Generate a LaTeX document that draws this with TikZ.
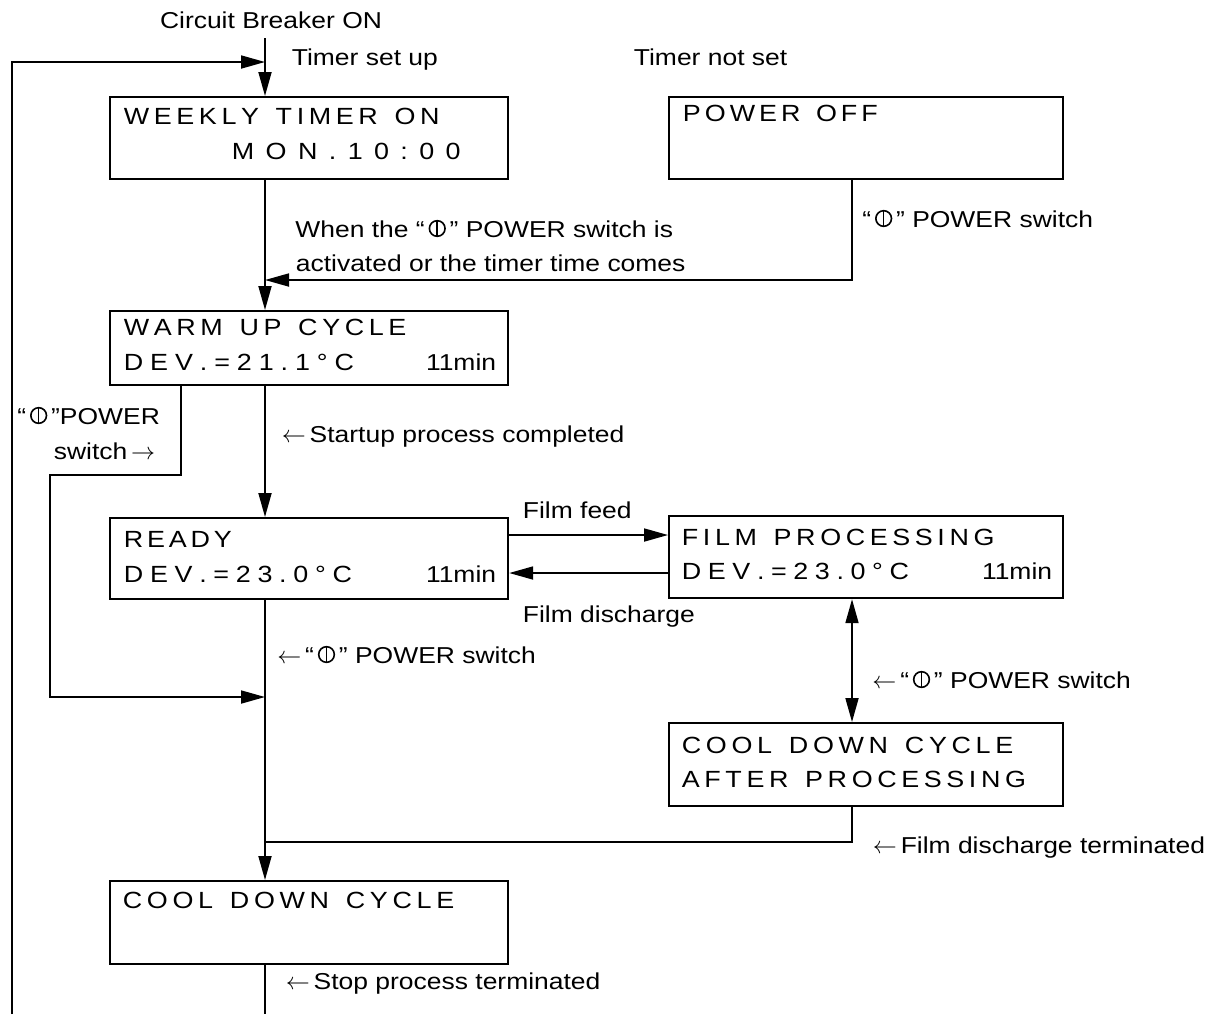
\documentclass[tikz,border=0pt]{standalone}
\usepackage{fontspec}
\setmainfont{Liberation Sans}[FakeStretch=1.15]
\usetikzlibrary{arrows.meta,calc}

\newcommand\pwr{\tikz[baseline=0pt,x=1em,y=1em,line width=0.07em]{\draw (0.34,0.37) circle (0.34); \draw (0.34,0.05)--(0.34,0.71);}}
\def\lcdloop#1{\ifx\relax#1\else#1\hspace{\lcdw}\expandafter\lcdloop\fi}
\newcommand\lcd[2]{\def\lcdw{#1}\lcdloop#2\relax}

\begin{document}
\begin{tikzpicture}[x=0.5pt,y=-0.5pt,line width=0.9pt,
  >={Triangle[length=12pt,width=6.5pt]},
  box/.style={draw,line width=1.1pt,anchor=north west,inner sep=0pt,rectangle},
  lbl/.style={anchor=base west,inner sep=0pt,font=\fontsize{11.5}{13}\selectfont},
  lcdt/.style={anchor=base west,inner sep=0pt,font=\fontsize{11.7}{13}\selectfont}]
\useasboundingbox (0,0) rectangle (1218,1014);

% boxes
\node[box,minimum width=199pt,minimum height=41pt] (wt) at (109,96) {};
\node[box,minimum width=197pt,minimum height=41pt] (po) at (668,96) {};
\node[box,minimum width=199pt,minimum height=37pt] (wu) at (109,310) {};
\node[box,minimum width=199pt,minimum height=40.5pt] (rd) at (109,517) {};
\node[box,minimum width=197pt,minimum height=41pt] (fp) at (668,515) {};
\node[box,minimum width=197pt,minimum height=41.5pt] (ca) at (668,722) {};
\node[box,minimum width=199pt,minimum height=41.5pt] (cd) at (109,880) {};

% box texts
\node[lcdt] (wt1) at (123,124) {\lcd{2.3pt}{WEEKLY~TIMER~ON}};
\node[lcdt] (wt2) at (231,159) {\lcd{5.7pt}{MON.10:00}};
\node[lcdt] (po1) at (682,121) {\lcd{2pt}{POWER~OFF}};
\node[lcdt] (wu1) at (123,335) {\lcd{2.3pt}{WARM~UP~CYCLE}};
\node[lcdt] (wu2) at (123,370) {\lcd{3.45pt}{DEV.=21.1°C}};
\node[lbl,anchor=base east] (wu3) at (497,370) {11min};
\node[lcdt] (rd1) at (123,547) {\lcd{1.9pt}{READY}};
\node[lcdt] (rd2) at (123,582) {\lcd{3.35pt}{DEV.=23.0°C}};
\node[lbl,anchor=base east] (rd3) at (497,582) {11min};
\node[lcdt] (fp1) at (681,545) {\lcd{2.3pt}{FILM~PROCESSING}};
\node[lcdt] (fp2) at (681,579) {\lcd{3.3pt}{DEV.=23.0°C}};
\node[lbl,anchor=base east] (fp3) at (1053,579) {11min};
\node[lcdt] (ca1) at (681,753) {\lcd{2.33pt}{COOL~DOWN~CYCLE}};
\node[lcdt] (ca2) at (681,787) {\lcd{2.3pt}{AFTER~PROCESSING}};
\node[lcdt] (cd1) at (122,908) {\lcd{2.33pt}{COOL~DOWN~CYCLE}};

% labels
\node[lbl,anchor=base] (t0) at (271,28) {Circuit Breaker ON};
\node[lbl] (t1) at (291,65) {Timer set up};
\node[lbl] (t2) at (633,65) {Timer not set};
\node[lbl] (t3) at (295,237) {When the “\,\pwr\,” POWER switch is};
\node[lbl] (t4) at (295,271) {activated or the timer time comes};
\node[lbl] (t5) at (862,227) {“\,\pwr\,” POWER switch};
\node[lbl] (t6) at (17,424) {“\,\pwr\,”POWER};
\node[lbl] (t7) at (53,459) {switch\,$\rightarrow$};
\node[lbl] (t8) at (281,442) {$\leftarrow$\,Startup process completed};
\node[lbl] (t9) at (522,518) {Film feed};
\node[lbl] (t10) at (522,622) {Film discharge};
\node[lbl] (t11) at (277,663) {$\leftarrow$\,“\,\pwr\,” POWER switch};
\node[lbl] (t12) at (872,688) {$\leftarrow$\,“\,\pwr\,” POWER switch};
\node[lbl] (t13) at (872,853) {$\leftarrow$\,Film discharge terminated};
\node[lbl] (t14) at (285,989) {$\leftarrow$\,Stop process terminated};

% connectors
\coordinate (cb) at (265,38);
\coordinate (lt) at (12,62);
\coordinate (lb) at (12,1014);
\coordinate (pj) at (852,280);
\coordinate (b1) at (181,475);
\coordinate (b2) at (50,475);
\coordinate (b3) at (50,697);
\coordinate (ff) at (0,535);
\coordinate (fd) at (0,573);
\coordinate (cj) at (852,842);
\coordinate (bb) at (265,1014);

\draw[->] (cb) -- (cb |- wt.north);
\draw[->] (lb) -- (lt) -- (lt -| cb);
\draw[->] (cb |- wt.south) -- (cb |- wu.north);
\draw[->] (pj |- po.south) -- (pj) -- (pj -| cb);
\draw[->] (cb |- wu.south) -- (cb |- rd.north);
\draw[->] (b1 |- wu.south) -- (b1) -- (b2) -- (b3) -- (b3 -| cb);
\draw[->] (rd.east |- ff) -- (fp.west |- ff);
\draw[->] (fp.west |- fd) -- (rd.east |- fd);
\draw[<->] (pj |- fp.south) -- (pj |- ca.north);
\draw (pj |- ca.south) -- (cj) -- (cj -| cb);
\draw[->] (cb |- rd.south) -- (cb |- cd.north);
\draw (cb |- cd.south) -- (bb);
\end{tikzpicture}
\end{document}
